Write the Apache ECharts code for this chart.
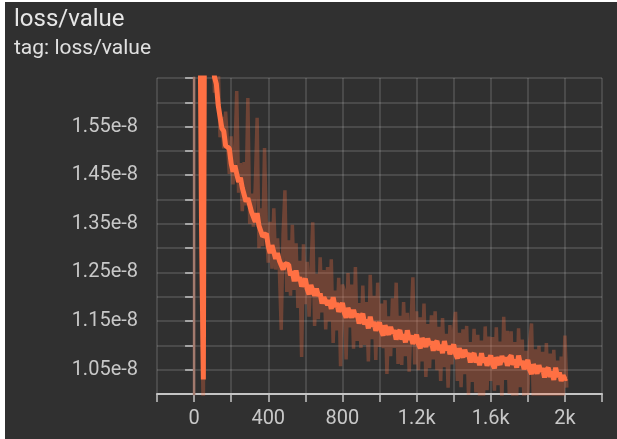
<!DOCTYPE html>
<html>
<head>
<meta charset="utf-8">
<script src="https://cdn.jsdelivr.net/npm/echarts@6/dist/echarts.min.js"></script>
<style>
  html, body { margin: 0; padding: 0; background: #ffffff; width: 617px; height: 439px; overflow: hidden; }
  #panel { position: absolute; left: 5px; top: 2px; width: 612px; height: 437px; background: #303030; }
  #chart { width: 612px; height: 437px; }
</style>
</head>
<body>
<div id="panel"><div id="chart"></div></div>
<script>
// Values are in units of 1e-8
const titleText = 'loss/value';
const tagText = 'tag: loss/value';
const unitSuffix = 'e-8';

// logged steps: 0, 10, 20, ... 2010
const steps = [];
for (let s = 0; s <= 2010; s += 10) steps.push(s);

// step-0 raw segment (drawn lighter)
const stepZeroSpan = [0.90, 3.00];

const rawValues = [
  3.00, 3.00, 2.60, 2.20, 1.20, 0.95, 2.40, 2.10, 1.90, 1.78,
  1.750, 1.620, 1.664, 1.686, 1.528, 1.570, 1.505, 1.581, 1.517, 1.453, 1.530,
  1.431, 1.492, 1.623, 1.414, 1.475, 1.376, 1.477, 1.388, 1.609, 1.350,
  1.412, 1.344, 1.426, 1.568, 1.300, 1.382, 1.304, 1.506, 1.338, 1.270,
  1.354, 1.258, 1.382, 1.256, 1.320, 1.256, 1.132, 1.328, 1.419, 1.210,
  1.316, 1.202, 1.348, 1.214, 1.310, 1.177, 1.274, 1.076, 1.308, 1.185,
  1.272, 1.159, 1.246, 1.353, 1.140, 1.247, 1.154, 1.281, 1.168, 1.255,
  1.133, 1.261, 1.149, 1.277, 1.105, 1.213, 1.131, 1.239, 1.057, 1.225,
  1.213, 1.071, 1.249, 1.137, 1.225, 1.093, 1.261, 1.109, 1.187, 1.095,
  1.223, 1.101, 1.189, 1.067, 1.245, 1.113, 1.202, 1.070, 1.229, 1.097,
  1.186, 1.094, 1.193, 1.041, 1.160, 1.078, 1.197, 1.095, 1.229, 1.062,
  1.161, 1.060, 1.189, 1.078, 1.167, 1.046, 1.144, 1.240, 1.061, 1.170,
  1.049, 1.158, 1.067, 1.186, 1.035, 1.144, 1.053, 1.162, 1.071, 1.170,
  1.049, 1.138, 1.027, 1.156, 1.055, 1.124, 1.013, 1.142, 1.061, 1.130,
  1.169, 1.027, 1.126, 1.014, 1.133, 1.041, 1.140, 0.998, 1.107, 1.025,
  1.134, 1.003, 1.122, 0.991, 1.110, 0.979, 1.139, 1.008, 1.118, 1.027,
  1.117, 1.007, 1.137, 1.018, 1.108, 0.988, 1.159, 1.029, 1.130, 1.000,
  1.129, 0.988, 1.107, 0.996, 1.135, 1.014, 1.112, 0.971, 1.089, 0.998,
  1.106, 1.145, 0.983, 1.092, 0.990, 1.099, 0.968, 1.087, 0.996, 1.105,
  0.984, 1.083, 0.972, 1.091, 0.990, 1.069, 0.958, 1.077, 0.996, 1.120, 1.013
];

const smoothedValues = [
  null, null, 2.50, 1.90, 1.35, 1.03, 2.30, 2.00, 1.85, 1.76,
  1.700, 1.652, 1.638, 1.594, 1.592, 1.546, 1.541, 1.511, 1.509, 1.505, 1.474,
  1.457, 1.470, 1.453, 1.436, 1.445, 1.424, 1.423, 1.396, 1.403, 1.400,
  1.374, 1.378, 1.354, 1.372, 1.346, 1.348, 1.324, 1.328, 1.330, 1.304,
  1.290, 1.306, 1.292, 1.278, 1.290, 1.274, 1.278, 1.256, 1.268, 1.270,
  1.266, 1.244, 1.252, 1.232, 1.254, 1.233, 1.240, 1.221, 1.230, 1.237,
  1.216, 1.205, 1.224, 1.213, 1.202, 1.217, 1.202, 1.207, 1.186, 1.199,
  1.203, 1.183, 1.193, 1.175, 1.199, 1.179, 1.187, 1.169, 1.179, 1.187,
  1.167, 1.157, 1.177, 1.167, 1.157, 1.173, 1.159, 1.165, 1.145, 1.159,
  1.165, 1.143, 1.153, 1.135, 1.159, 1.139, 1.148, 1.130, 1.141, 1.147,
  1.130, 1.120, 1.141, 1.131, 1.122, 1.138, 1.125, 1.131, 1.112, 1.126,
  1.131, 1.112, 1.123, 1.106, 1.131, 1.112, 1.120, 1.103, 1.113, 1.122,
  1.103, 1.094, 1.115, 1.106, 1.097, 1.114, 1.101, 1.108, 1.089, 1.104,
  1.109, 1.090, 1.101, 1.084, 1.109, 1.090, 1.099, 1.082, 1.093, 1.102,
  1.083, 1.073, 1.094, 1.084, 1.075, 1.091, 1.078, 1.084, 1.065, 1.079,
  1.084, 1.065, 1.076, 1.059, 1.084, 1.065, 1.075, 1.058, 1.070, 1.079,
  1.061, 1.053, 1.075, 1.068, 1.060, 1.078, 1.067, 1.075, 1.058, 1.074,
  1.079, 1.060, 1.071, 1.054, 1.079, 1.060, 1.068, 1.051, 1.061, 1.070,
  1.050, 1.041, 1.061, 1.052, 1.042, 1.059, 1.046, 1.053, 1.034, 1.049,
  1.054, 1.035, 1.046, 1.029, 1.054, 1.035, 1.044, 1.027, 1.038, 1.031, 1.033
];

const xMin = -200, xMax = 2200, xInterval = 200;
const yMin = 1.00, yMax = 1.65, yInterval = 0.05;

const lineColor = '#ff7043';
const textColor = '#c8c8c8';
const axisColor = '#c4c4c4';
const gridColor = 'rgba(255,255,255,0.17)';
const font = 'Roboto, "Noto Sans", sans-serif';

const chart = echarts.init(document.getElementById('chart'), null, { renderer: 'canvas' });

function xLabel(v) {
  if (v < 0 || v % 400 !== 0) return '';
  if (v >= 1000) return (v / 1000) + 'k';
  return String(v);
}
function yLabel(v) {
  const k = Math.round(v * 100);
  if (k % 10 !== 5 || v >= yMax - 1e-9) return '';
  return (k / 100).toFixed(2) + unitSuffix;
}

chart.setOption({
  animation: false,
  backgroundColor: 'transparent',
  graphic: [
    { type: 'text', x: 9, y: 17.5, style: { text: titleText, font: '24px ' + font, fill: '#e6e6e6', verticalAlign: 'middle' } },
    { type: 'text', x: 9, y: 47, style: { text: tagText, font: '21px ' + font, fill: '#e0e0e0', verticalAlign: 'middle' } }
  ],
  grid: { left: 152, top: 76, width: 445, height: 316, containLabel: false },
  xAxis: {
    type: 'value', min: xMin, max: xMax, interval: xInterval,
    axisLine: { show: true, lineStyle: { color: axisColor, width: 2 } },
    axisTick: { show: true, length: 8, lineStyle: { color: axisColor, width: 1.5 } },
    axisLabel: { formatter: xLabel, color: textColor, fontSize: 20, fontFamily: font, margin: 15, showMinLabel: true, showMaxLabel: true },
    splitLine: { show: true, lineStyle: { color: gridColor, width: 1.5 } }
  },
  yAxis: {
    type: 'value', min: yMin, max: yMax, interval: yInterval,
    axisLine: { show: true, lineStyle: { color: axisColor, width: 2 } },
    axisTick: { show: true, length: 9, lineStyle: { color: axisColor, width: 1.5 } },
    axisLabel: { formatter: yLabel, color: textColor, fontSize: 20, fontFamily: font, margin: 19 },
    splitLine: { show: true, lineStyle: { color: gridColor, width: 1.5 } }
  },
  series: [
    {
      name: 'step0', type: 'line', showSymbol: false, clip: true, silent: true,
      data: stepZeroSpan.map(v => [0, v]),
      lineStyle: { color: '#a27a6e', width: 2.5 }
    },
    {
      name: 'raw', type: 'line', showSymbol: false, clip: true, silent: true,
      data: steps.map((s, i) => [s, rawValues[i]]),
      lineStyle: { color: lineColor, width: 3.5, opacity: 0.3 }
    },
    {
      name: 'smoothed', type: 'line', showSymbol: false, clip: true, silent: true, connectNulls: false,
      data: steps.map((s, i) => [s, smoothedValues[i]]),
      lineStyle: { color: lineColor, width: 5 }
    }
  ]
});
</script>
</body>
</html>
